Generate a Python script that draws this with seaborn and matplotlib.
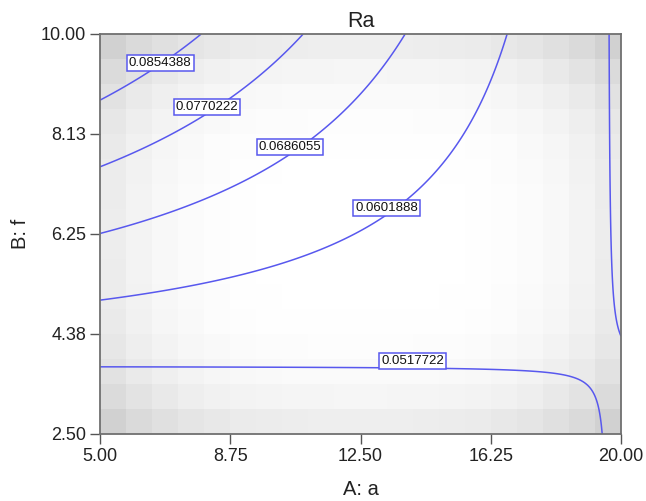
import numpy as np
import pandas as pd
import matplotlib
matplotlib.use("Agg")
import matplotlib.pyplot as plt
from matplotlib.colors import LinearSegmentedColormap
import seaborn as sns

# Factor ranges (actual units)
a_range = [5.0, 20.0]      # A: a
f_range = [2.5, 10.0]      # B: f

# Ra model in coded factors (-1..+1): intercept, A, B, AB
ra_coef = [0.05999, -0.00855, 0.01230, -0.01295]

# Contour levels shown on the plot
levels = [0.0517722, 0.0601888, 0.0686055, 0.0770222, 0.0854388]
# Where each level's label box sits (A, B)
label_pos = [(14.01, 3.87), (13.26, 6.74), (10.47, 7.88), (8.08, 8.63), (6.73, 9.46)]

# Design shading (coded): A^4, B^4, A^2B^2
se_coef = [0.09, 0.09, 0.055]
shade_cols, shade_rows = 20, 16

x_ticks = [5.0, 8.75, 12.5, 16.25, 20.0]
x_ticklabels = ["5.00", "8.75", "12.50", "16.25", "20.00"]
y_ticks = [2.5, 4.375, 6.25, 8.125, 10.0]
y_ticklabels = ["2.50", "4.38", "6.25", "8.13", "10.00"]

sns.set_theme(style="white")
plt.rcParams["font.family"] = ["Liberation Sans", "DejaVu Sans"]


def coded(v, lo, hi):
    return (v - (lo + hi) / 2) / ((hi - lo) / 2)


def ra_model(A, B):
    a = coded(A, *a_range)
    b = coded(B, *f_range)
    c0, cA, cB, cAB = ra_coef
    return c0 + cA * a + cB * b + cAB * a * b


def se_model(A, B):
    a = coded(A, *a_range)
    b = coded(B, *f_range)
    kA, kB, kAB = se_coef
    return kA * a**4 + kB * b**4 + kAB * a**2 * b**2


fig = plt.figure(figsize=(6.46, 5.01), dpi=100)
pos = [100 / 646, 1 - 434 / 501, 521 / 646, 400 / 501]

# Background: blocky grey shading drawn as a seaborn heatmap
ax_bg = fig.add_axes(pos, zorder=0)
cx = np.linspace(a_range[0], a_range[1], shade_cols + 1)
cy = np.linspace(f_range[0], f_range[1], shade_rows + 1)
mx = (cx[:-1] + cx[1:]) / 2
my = (cy[:-1] + cy[1:]) / 2
MX, MY = np.meshgrid(mx, my[::-1])
shade = pd.DataFrame(se_model(MX, MY))
grey = LinearSegmentedColormap.from_list("se_grey", ["#ffffff", "#c4c4c4"])
sns.heatmap(shade, ax=ax_bg, cmap=grey, cbar=False, vmin=0.0, vmax=0.24,
            xticklabels=False, yticklabels=False)
ax_bg.axis("off")

# Foreground axes in actual units
ax = fig.add_axes(pos, zorder=1)
ax.patch.set_alpha(0)
gx = np.linspace(a_range[0], a_range[1], 300)
gy = np.linspace(f_range[0], f_range[1], 300)
GX, GY = np.meshgrid(gx, gy)
blue = "#5858ee"
ax.contour(GX, GY, ra_model(GX, GY), levels=levels, colors=blue, linewidths=1.1)

for lev, (px, py) in zip(levels, label_pos):
    ax.text(px, py, f"{lev:.7f}", ha="center", va="center", fontsize=9.5,
            color="#111111",
            bbox=dict(boxstyle="square,pad=0.16", fc="white", ec=blue, lw=1.1))

ax.set_xlim(*a_range)
ax.set_ylim(*f_range)
ax.set_xticks(x_ticks)
ax.set_xticklabels(x_ticklabels)
ax.set_yticks(y_ticks)
ax.set_yticklabels(y_ticklabels)
ax.tick_params(axis="both", direction="out", length=7, width=1.0, color="#555555",
               labelsize=13, labelcolor="#222222", pad=3,
               bottom=True, left=True, top=False, right=False)
for sp in ax.spines.values():
    sp.set_color("#707070")
    sp.set_linewidth(1.3)

ax.set_xlabel("A: a", fontsize=14.5, color="#222222", labelpad=11)
ax.set_ylabel("B: f", fontsize=14.5, color="#222222", labelpad=8)
ax.set_title("Ra", fontsize=15.5, color="#222222", pad=5)

fig.savefig("out.png", dpi=100)
